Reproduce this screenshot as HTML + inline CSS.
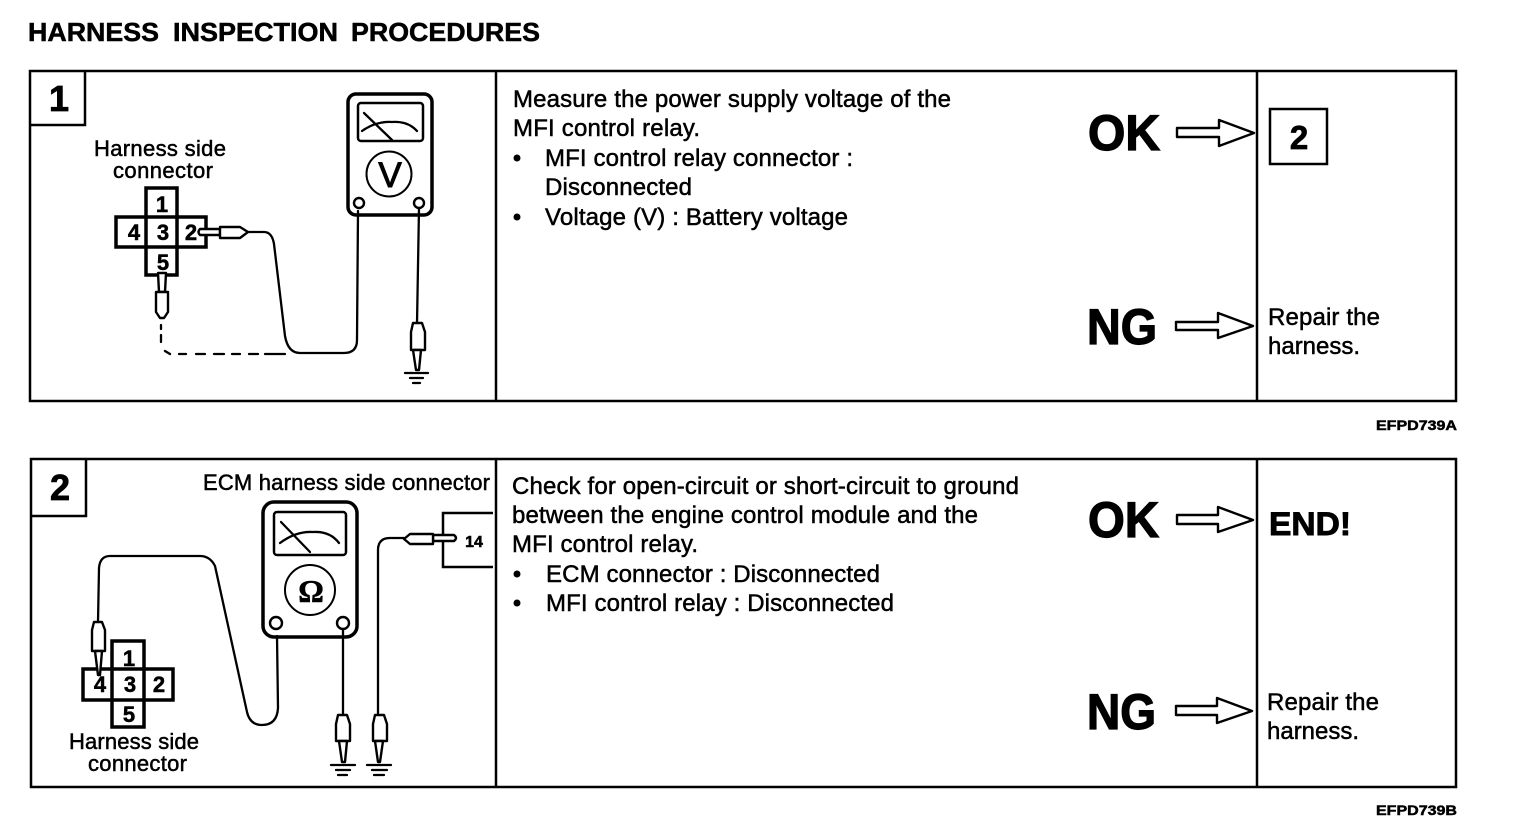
<!DOCTYPE html>
<html><head><meta charset="utf-8"><style>
html,body{margin:0;padding:0;background:#fff;width:1536px;height:822px;overflow:hidden}
svg{display:block}
text{font-family:"Liberation Sans",sans-serif;fill:#000;stroke:#000;stroke-width:.5}
.b{font-weight:bold}
.t{font-size:24px}
.l{font-size:22px}
.big{font-size:50px;font-weight:bold;stroke-width:1.3}
.w{fill:none;stroke:#000;stroke-width:2.3;stroke-linejoin:round;stroke-linecap:round}
.f{fill:#fff;stroke:#000;stroke-width:2.4;stroke-linejoin:round}
.o{fill:none;stroke:#000;stroke-width:2.5}
.c{fill:none;stroke:#000;stroke-width:3.5}
</style></head><body>
<svg width="1536" height="822" viewBox="0 0 1536 822">
<rect width="1536" height="822" fill="#fff"/>
<g class="b" font-size="26" style="stroke-width:.7">
<text x="28" y="41" textLength="131" lengthAdjust="spacingAndGlyphs">HARNESS</text>
<text x="173" y="41" textLength="165" lengthAdjust="spacingAndGlyphs">INSPECTION</text>
<text x="351" y="41" textLength="189" lengthAdjust="spacingAndGlyphs">PROCEDURES</text>
</g>

<!-- Panel 1 -->
<rect class="o" x="30" y="71" width="1426" height="330"/>
<path class="o" d="M496 71V401M1257 71V401M30 125H85V71"/>
<text class="b" x="59" y="111" font-size="36" text-anchor="middle" style="stroke-width:.8">1</text>
<text class="l" x="94" y="156" textLength="132">Harness side</text>
<text class="l" x="113" y="178" textLength="100">connector</text>
<path class="c" d="M146 217V188H177V217H206V247H177V275H146V247H116V217ZM146 217H177M146 247H177M146 217V247M177 217V247"/>
<g font-size="22" text-anchor="middle" style="font-weight:bold"><text x="162" y="212">1</text><text x="134" y="240">4</text><text x="163" y="240">3</text><text x="191" y="240">2</text><text x="163" y="270">5</text></g>
<rect x="348" y="94" width="84" height="121" rx="8" fill="#fff" stroke="#000" stroke-width="3.5"/>
<rect x="358" y="103" width="65" height="38" rx="3" fill="none" stroke="#000" stroke-width="2.5"/>
<path class="w" d="M364 113L392 140M362 131Q376 121 392 122Q408 121 417 131"/>
<circle cx="389" cy="174" r="22.5" fill="none" stroke="#000" stroke-width="2"/>
<text x="390" y="187" font-size="35" text-anchor="middle" style="stroke-width:1">V</text>
<circle class="f" cx="359" cy="203" r="5"/><circle class="f" cx="419" cy="203" r="5"/>
<path class="w" d="M247 232H264Q272 232 274 244L285 336Q288 353 300 353H344Q357 353 357 340L358 211"/>
<path class="w" d="M419 208L417 324"/>
<path class="f" d="M200 229H220V235H200Q197 232 200 229Z"/>
<path class="f" d="M220 227H240L248 232L240 238H220Z"/>
<path class="f" d="M158 273H166L165 292H159Z"/>
<path class="f" d="M156 292H168V312L164 318H160L156 312Z"/>
<path class="w" d="M161 325V329M161 335V342M165 351L170 354M179 354H186M196 354H205M214 354H224M232 354H240M249 354H258M265 354H285" />
<path class="f" d="M413 323H422L425 332V350H411V332Z"/>
<path class="f" d="M413 350H421L419 370H416Z"/>
<path class="w" d="M405 373H428M410 378H423M413 383H420"/>

<text class="t" x="513" y="107" textLength="438">Measure the power supply voltage of the</text>
<text class="t" x="513" y="136" textLength="187">MFI control relay.</text>
<circle cx="517" cy="158" r="3.5"/>
<text class="t" x="545" y="166" textLength="308">MFI control relay connector :</text>
<text class="t" x="545" y="195" textLength="147">Disconnected</text>
<circle cx="517" cy="217" r="3.5"/>
<text class="t" x="545" y="225" textLength="303">Voltage (V) : Battery voltage</text>

<text class="big" x="1088" y="150" textLength="72" lengthAdjust="spacingAndGlyphs">OK</text>
<path class="f" d="M1177 128H1219V120L1254 133L1219 146V137H1177Z"/>
<text class="big" x="1087" y="344" textLength="70" lengthAdjust="spacingAndGlyphs">NG</text>
<path class="f" d="M1176 322H1218V313L1253 326L1218 338V330H1176Z"/>
<rect class="o" x="1270" y="109" width="57" height="55"/>
<text class="b" x="1299" y="149" font-size="33" text-anchor="middle" style="stroke-width:.8">2</text>
<text class="t" x="1268" y="325" textLength="112">Repair the</text>
<text class="t" x="1268" y="354" textLength="92">harness.</text>
<text class="b" x="1376" y="430" font-size="14" textLength="81" lengthAdjust="spacingAndGlyphs">EFPD739A</text>

<!-- Panel 2 -->
<rect class="o" x="31" y="459" width="1425" height="328"/>
<path class="o" d="M496 459V787M1257 459V787M31 516H86V459"/>
<text class="b" x="60" y="500" font-size="36" text-anchor="middle" style="stroke-width:.8">2</text>
<text class="l" x="203" y="490" textLength="287">ECM harness side connector</text>
<rect x="263" y="502" width="94" height="135" rx="11" fill="#fff" stroke="#000" stroke-width="3.5"/>
<rect x="274" y="512" width="72" height="43" rx="3" fill="none" stroke="#000" stroke-width="2.5"/>
<path class="w" d="M281 522L310 552M280 543Q296 531 313 532Q330 531 339 543"/>
<circle cx="310" cy="590" r="25" fill="none" stroke="#000" stroke-width="2"/>
<text class="b" x="311" y="602" font-size="32" text-anchor="middle" style="font-family:'Liberation Serif',serif">Ω</text>
<circle class="f" cx="276" cy="623" r="6"/><circle class="f" cx="343" cy="623" r="6"/>
<path class="w" d="M98 622L99 568Q100 556 110 556H200Q210 556 215 566L247 712Q250 725 262 725Q277 725 278 708L277 636"/>
<path class="w" d="M343 630V716"/>
<path class="w" d="M378 716L378 550Q378 538 390 538H404"/>
<path class="o" d="M493 513H443V567H493"/>
<text class="b" x="474" y="547" font-size="16" text-anchor="middle">14</text>
<path class="f" d="M433 535H454Q458 538 454 541H433Z"/>
<path class="f" d="M410 534H433V544H410L404 539Z"/>
<path class="c" d="M112 669V641H144V669H173V700H144V727H112V700H83V669ZM112 669H144M112 700H144M112 669V700M144 669V700"/>
<g font-size="22" text-anchor="middle" style="font-weight:bold"><text x="100" y="692">4</text><text x="130" y="692">3</text><text x="159" y="692">2</text><text x="129" y="666">1</text><text x="129" y="722">5</text></g>
<path class="f" d="M94 622H102L105 630V651H92V630Z"/>
<path class="f" d="M95 651H102L100 675H98Z"/>
<path class="f" d="M338 715H347L350 724V741H336V724Z"/>
<path class="f" d="M339 741H347L345 762H342Z"/>
<path class="w" d="M331 765H355M336 770H350M338 775H347"/>
<path class="f" d="M375 715H384L387 724V741H373V724Z"/>
<path class="f" d="M375 741H383L380 762H378Z"/>
<path class="w" d="M367 765H391M372 770H387M374 775H384"/>
<text class="l" x="69" y="749" textLength="130">Harness side</text>
<text class="l" x="88" y="771" textLength="99">connector</text>

<text class="t" x="512" y="494" textLength="507">Check for open-circuit or short-circuit to ground</text>
<text class="t" x="512" y="523" textLength="466">between the engine control module and the</text>
<text class="t" x="512" y="552" textLength="186">MFI control relay.</text>
<circle cx="517" cy="574" r="3.5"/>
<text class="t" x="546" y="582" textLength="334">ECM connector : Disconnected</text>
<circle cx="517" cy="603" r="3.5"/>
<text class="t" x="546" y="611" textLength="348">MFI control relay : Disconnected</text>

<text class="big" x="1088" y="537" textLength="71" lengthAdjust="spacingAndGlyphs">OK</text>
<path class="f" d="M1177 515H1218V507L1253 520L1218 532V524H1177Z"/>
<text class="big" x="1087" y="729" textLength="69" lengthAdjust="spacingAndGlyphs">NG</text>
<path class="f" d="M1176 706H1217V698L1252 711L1217 723V715H1176Z"/>
<text class="b" x="1269" y="535" font-size="32" textLength="82" lengthAdjust="spacingAndGlyphs" style="stroke-width:.9">END!</text>
<text class="t" x="1267" y="710" textLength="112">Repair the</text>
<text class="t" x="1267" y="739" textLength="92">harness.</text>
<text class="b" x="1376" y="815" font-size="14" textLength="81" lengthAdjust="spacingAndGlyphs">EFPD739B</text>
</svg>
</body></html>
